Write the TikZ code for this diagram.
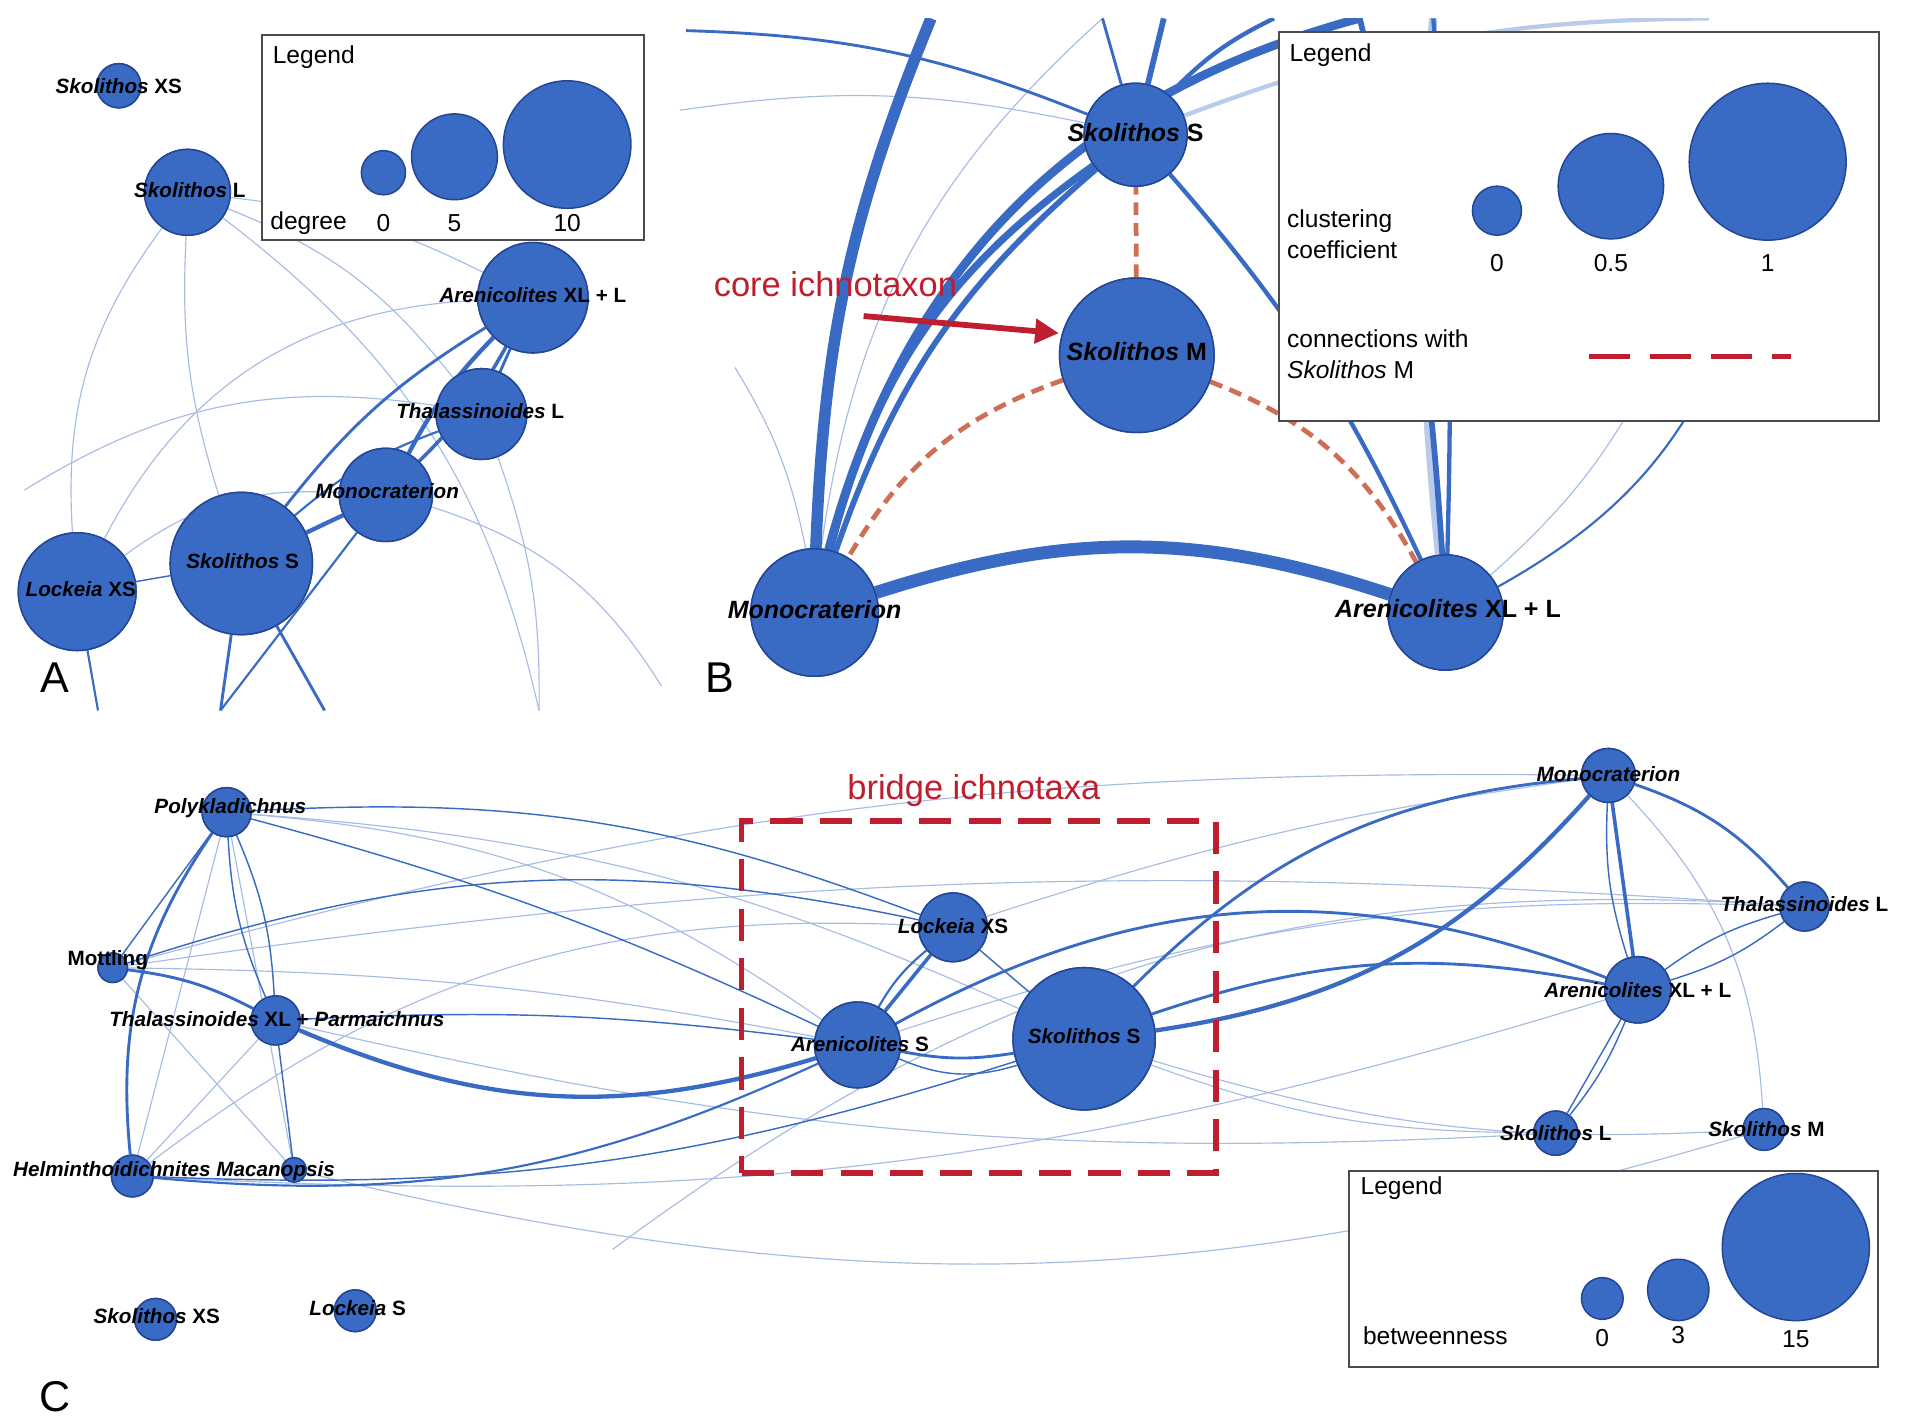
\documentclass[tikz,border=0pt]{standalone}
\usepackage{fontspec}
\setmainfont{Liberation Sans}
\usetikzlibrary{arrows.meta}
\definecolor{nb}{RGB}{58,107,196}
\definecolor{nd}{RGB}{35,70,150}
\definecolor{rd}{RGB}{190,30,45}
\definecolor{od}{RGB}{205,110,85}
\begin{document}
\begin{tikzpicture}[x=0.01cm,y=-0.01cm,
 nd/.style={circle,fill=nb,draw=nd,line width=0.35pt,minimum size=#1*0.02cm,inner sep=0pt},
 lb/.style={font=\bfseries\fontsize{4.8}{5}\selectfont,inner sep=0pt},
 lbb/.style={font=\bfseries\fontsize{5.8}{6}\selectfont,inner sep=0pt},
 e/.style={draw=nb,line width=#1/3},
 f/.style={draw=nb!45,line width=0.27pt},
 box/.style={draw=black!70,line width=0.5pt,fill=white},
 lt/.style={font=\fontsize{5.7}{5.7}\selectfont,inner sep=0pt}]
\useasboundingbox (0,0) rectangle (1560,1161);
% ===== Panel A =====
\begin{scope}
\clip (0,0) rectangle (545,580);
\coordinate (a1) at (80,580);\coordinate (a2) at (180,580);\coordinate (a3) at (265,580);
\coordinate (a4) at (540,560);\coordinate (a5) at (440,580);\coordinate (a6) at (20,400);
\node[nd=18] (aXS) at (97,70) {};
\node[nd=35] (aL) at (153,157) {};
\node[nd=45] (aAr) at (435,243) {};
\node[nd=37] (aTh) at (393,338) {};
\node[nd=38] (aMo) at (315,404) {};
\node[nd=58] (aS) at (197,460) {};
\node[nd=48] (aLo) at (63,483) {};
\path[f] (aL) to[bend right=20] (aLo);
\path[f] (aL) to[bend right=10] (aS);
\path[f] (aL) to[bend left=15] (aTh);
\path[f] (aL) to[bend left=10] (aAr);
\path[f] (aL) to[bend left=20] (a5);
\path[f] (aLo) to[bend left=30] (aAr);
\path[f] (aLo) to[bend left=20] (aMo);
\path[f] (a6) to[bend left=20] (aTh);
\path[f] (aMo) to[bend left=20] (a4);
\path[f] (aTh) to[bend left=10] (a5);
\path[e=2pt] (aS) to[bend left=10] (aAr);
\path[e=3pt] (aS) -- (aMo);
\path[e=3pt] (aMo) to[bend left=8] (aAr);
\path[e=2.5pt] (aMo) to[bend right=8] (aAr);
\path[e=2pt] (aTh) -- (aAr);
\path[e=1.5pt] (aS) to[bend left=10] (aTh);
\path[e=2pt] (aS) to (a3);
\path[e=2pt] (aS) to (a2);
\path[e=1.5pt] (aMo) to (a2);
\path[e=1.5pt] (aLo) to (a1);
\path[e=1pt] (aLo) -- (aS);
\foreach \n/\s in {aXS/18,aL/35,aAr/45,aTh/37,aMo/38,aS/58,aLo/48}
 \node[nd=\s] at (\n) {};
\end{scope}
\node[lb] at (97,70) {\textit{Skolithos} XS};
\node[lb] at (155,155) {\textit{Skolithos} L};
\node[lb] at (435,241) {\textit{Arenicolites} XL + L};
\node[lb] at (392,336) {\textit{Thalassinoides} L};
\node[lb] at (316,401) {\textit{Monocraterion}};
\node[lb] at (198,458) {\textit{Skolithos} S};
\node[lb] at (66,481) {\textit{Lockeia} XS};
\node[box,minimum width=312*0.01cm,minimum height=167*0.01cm,anchor=north west] (lgA) at (213,28) {};
\node[lt,anchor=west] at (222,47) {Legend};
\node[nd=18] (dA0) at (313,141) {};
\node[nd=35] (dA1) at (371,128) {};
\node[nd=52] (dA2) at (463,118) {};
\node[lt,anchor=west] at (220,182) {degree};
\node[lt] at (313,182) {0};\node[lt] at (371,182) {5};\node[lt] at (463,182) {10};
\node[font=\fontsize{10}{10}\selectfont] at (45,553) {A};
% ===== Panel B =====
\begin{scope}
\clip (555,15) rectangle (1560,580);
\node[nd=42] (bS) at (927,110) {};
\node[nd=63] (bM) at (928,290) {};
\node[nd=52] (bMo) at (665,500) {};
\node[nd=47] (bAr) at (1180,500) {};
\coordinate (t1) at (760,15);\coordinate (t2) at (900,15);\coordinate (t3) at (950,15);
\coordinate (t4) at (1110,15);\coordinate (t5) at (1170,15);\coordinate (t6) at (1395,15);
\coordinate (t7) at (555,90);\coordinate (t8) at (560,25);\coordinate (t9) at (1040,15);
\coordinate (t10) at (600,300);\coordinate (t11) at (1350,300);\coordinate (t12) at (1420,250);
\path[f] (t7) to[bend left=10] (bS);
\path[f] (t10) to[bend left=10] (bMo);
\path[f] (bMo) to[bend left=20] (t2);
\path[f] (bAr) to[bend right=10] (t11);
\path[draw=nb!35,line width=2pt] (bAr) to[bend left=5] (t5);
\path[draw=nb!35,line width=1pt] (bS) to[bend left=10] (t6);
\path[e=1.5pt] (bAr) to[bend right=20] (t12);
\path[e=2pt] (t8) to[bend left=10] (bS);
\path[e=3pt] (t9) to[bend right=10] (bS);
\path[e=4pt] (t3) -- (bS);
\path[e=2pt] (t2) -- (bS);
\path[e=8pt] (bMo) to[bend left=10] (t1);
\path[e=5pt] (bMo) to[bend left=20] (bS);
\path[e=6pt] (bMo) to[bend left=30] (t4);
\path[e=4pt] (bMo) to[bend left=15] (bS);
\path[e=3pt] (bS) to[bend left=8] (bAr);
\path[e=4pt] (t4) to[bend left=5] (bAr);
\path[e=3pt] (t5) to[bend left=3] (bAr);
\path[e=9pt] (bMo) to[bend left=18] (bAr);
\path[draw=od,line width=1.1pt,dash pattern=on 3pt off 1.8pt] (bM) -- (bS);
\path[draw=od,line width=1.1pt,dash pattern=on 3pt off 1.8pt] (bM) to[bend right=20] (bMo);
\path[draw=od,line width=1.1pt,dash pattern=on 3pt off 1.8pt] (bM) to[bend left=20] (bAr);
\foreach \n/\s in {bS/42,bM/63,bMo/52,bAr/47}
 \node[nd=\s] at (\n) {};
\end{scope}
\node[lbb] at (927,108) {\textit{Skolithos} S};
\node[lbb] at (928,287) {\textit{Skolithos} M};
\node[lbb] at (665,498) {\textit{Monocraterion}};
\node[lbb] at (1182,497) {\textit{Arenicolites} XL + L};
\node[font=\fontsize{8}{8}\selectfont,text=rd,inner sep=0pt] (core) at (682,232) {core ichnotaxon};
\coordinate (cs) at (705,258);
\draw[rd,line width=1.35pt,-{Triangle[length=5.5pt,width=5.5pt]}] (cs) -- (bM.west|-0,272);
\node[box,minimum width=490*0.01cm,minimum height=318*0.01cm,anchor=north west] (lgB) at (1043,25) {};
\node[lt,anchor=west] at (1052,45) {Legend};
\node[lt,anchor=west,align=left] at (1050,191) {clustering\\[1.5pt]coefficient};
\node[nd=20] (cB0) at (1222,172) {};
\node[nd=43] (cB1) at (1315,152) {};
\node[nd=64] (cB2) at (1443,132) {};
\node[lt] at (1222,215) {0};\node[lt] at (1315,215) {0.5};\node[lt] at (1443,215) {1};
\node[lt,anchor=west,align=left] at (1050,289) {connections with\\[1.5pt]\textit{Skolithos} M};
\coordinate (lr1) at (1297,291);\coordinate (lr2) at (1462,291);
\draw[rd,line width=1.35pt,dash pattern=on 9.5pt off 4.7pt] (lr1) -- (lr2);
\node[font=\fontsize{10}{10}\selectfont] at (588,553) {B};
% ===== Panel C =====
\node[nd=20] (cPo) at (185,663) {};
\node[nd=12] (cMt) at (92,790) {};
\node[nd=20] (cTh) at (225,833) {};
\node[nd=17] (cHe) at (108,960) {};
\node[nd=10] (cMa) at (240,955) {};
\node[nd=17] (cXS) at (127,1077) {};
\node[nd=17] (cLS) at (290,1070) {};
\node[nd=28] (cLo) at (778,757) {};
\node[nd=35] (cAS) at (700,853) {};
\node[nd=58] (cS) at (885,848) {};
\node[nd=22] (cMo) at (1313,633) {};
\node[nd=20] (cTL) at (1473,740) {};
\node[nd=27] (cAr) at (1337,808) {};
\node[nd=18] (cL) at (1270,925) {};
\node[nd=17] (cM) at (1440,922) {};
\coordinate (g1) at (500,1020);
\path[f] (cPo) to[bend left=10] (cS);
\path[f] (cPo) to[bend left=15] (cAS);
\path[f] (cMt) to[bend left=8] (cMo);
\path[f] (cMt) to[bend left=6] (cTL);
\path[f] (cHe) to[bend right=10] (cAr);
\path[f] (cTh) to[bend right=8] (cL);
\path[f] (cMa) to[bend right=15] (cM);
\path[f] (g1) to[bend left=20] (cTL);
\path[f] (cHe) to[bend left=20] (cLo);
\path[f] (cAS) to[bend left=10] (cTL);
\path[f] (cLo) to[bend left=5] (cMo);
\path[f] (cS) to[bend right=10] (cM);
\path[f] (cS) to[bend right=10] (cL);
\path[f] (cPo) -- (cMa);
\path[f] (cMt) -- (cMa);
\path[f] (cPo) -- (cHe);
\path[f] (cTh) -- (cHe);
\path[f] (cMt) to[bend left=5] (cAS);
\path[f] (cMo) to[bend left=20] (cM);
\path[e=1pt] (cPo) to[bend left=10] (cTh);
\path[e=1pt] (cPo) to[bend left=5] (cAS);
\path[e=1pt] (cPo) to[bend left=12] (cLo);
\path[e=1pt] (cPo) to[bend right=10] (cTh);
\path[e=1pt] (cPo) -- (cMt);
\path[e=1pt] (cTh) -- (cMa);
\path[e=1pt] (cMt) to[bend left=15] (cLo);
\path[e=2pt] (cMt) to[bend left=10] (cTh);
\path[e=2pt] (cPo) to[bend right=20] (cHe);
\path[e=1.5pt] (cHe) to[bend right=15] (cAS);
\path[e=1pt] (cHe) to[bend right=10] (cS);
\path[e=3pt] (cTh) to[bend right=20] (cAS);
\path[e=1pt] (cTh) to[bend left=5] (cAS);
\path[e=2.5pt] (cAS) -- (cLo);
\path[e=1.5pt] (cAS) to[bend left=10] (cLo);
\path[e=2pt] (cAS) to[bend right=10] (cS);
\path[e=1pt] (cLo) -- (cS);
\path[e=2pt] (cS) to[bend left=20] (cMo);
\path[e=2pt] (cS) to[bend left=15] (cAr);
\path[e=2pt] (cAS) to[bend left=25] (cAr);
\path[e=3pt] (cS) to[bend right=20] (cMo);
\path[e=2.5pt] (cMo) -- (cAr);
\path[e=2pt] (cMo) to[bend left=15] (cTL);
\path[e=1pt] (cAr) to[bend left=10] (cTL);
\path[e=1pt] (cAr) to[bend right=10] (cTL);
\path[e=1pt] (cAr) -- (cL);
\path[e=1pt] (cAr) to[bend left=8] (cL);
\path[e=1pt] (cMo) to[bend right=10] (cAr);
\path[e=1pt] (cS) to[bend left=20] (cAS);
\foreach \n/\s in {cPo/20,cMt/12,cTh/20,cHe/17,cMa/10,cXS/17,cLS/17,cLo/28,cAS/35,cS/58,cMo/22,cTL/20,cAr/27,cL/18,cM/17}
 \node[nd=\s] at (\n) {};
\node[lb] at (188,660) {\textit{Polykladichnus}};
\node[lb] at (88,784) {Mottling};
\node[lb] at (226,832) {\textit{Thalassinoides} XL + \textit{Parmaichnus}};
\node[lb,anchor=west] at (10,956) {\textit{Helminthoidichnites} \textit{Macanopsis}};
\node[lb] at (128,1074) {\textit{Skolithos} XS};
\node[lb] at (292,1068) {\textit{Lockeia} S};
\node[lb] at (778,756) {\textit{Lockeia} XS};
\node[lb] at (702,852) {\textit{Arenicolites} S};
\node[lb] at (885,846) {\textit{Skolithos} S};
\node[lb] at (1313,632) {\textit{Monocraterion}};
\node[lb] at (1473,738) {\textit{Thalassinoides} L};
\node[lb] at (1337,808) {\textit{Arenicolites} XL + L};
\node[lb] at (1270,925) {\textit{Skolithos} L};
\node[lb] at (1442,922) {\textit{Skolithos} M};
\node[draw=rd,line width=1.35pt,dash pattern=on 7.5pt off 4pt,minimum width=387*0.01cm,minimum height=287*0.01cm,anchor=north west] (br) at (603,668) {};
\node[font=\fontsize{8}{8}\selectfont,text=rd,inner sep=0pt] at (795,645) {bridge ichnotaxa};
\node[box,minimum width=432*0.01cm,minimum height=160*0.01cm,anchor=north west] (lgC) at (1100,955) {};
\node[lt,anchor=west] at (1110,970) {Legend};
\node[nd=17] (bt0) at (1308,1060) {};
\node[nd=25] (bt1) at (1370,1053) {};
\node[nd=60] (bt2) at (1466,1018) {};
\node[lt,anchor=west] at (1112,1090) {betweenness};
\node[lt] at (1308,1092) {0};\node[lt] at (1370,1090) {3};\node[lt] at (1466,1093) {15};
\node[font=\fontsize{10}{10}\selectfont] at (45,1140) {C};
\end{tikzpicture}
\end{document}
